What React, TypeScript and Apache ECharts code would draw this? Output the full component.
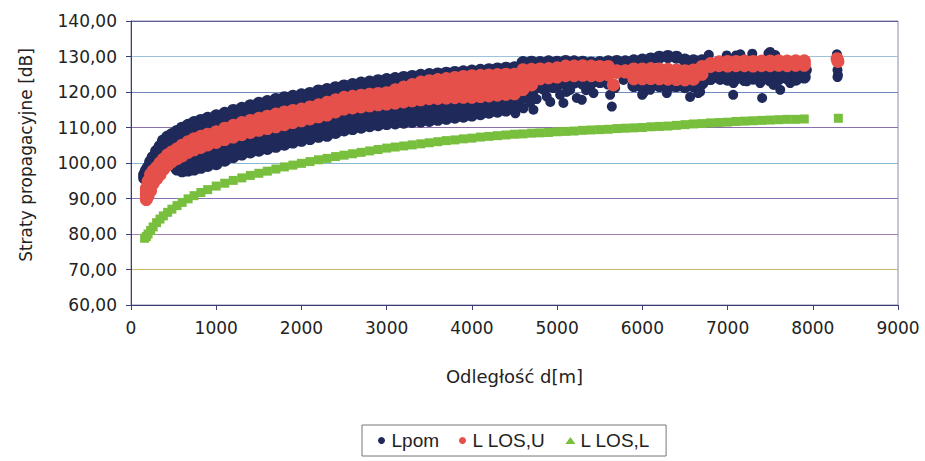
import React, { useEffect, useRef } from "react";
import * as echarts from "echarts";

// distances [m] for the dense part of the cloud
const distA = [
  160, 180, 200, 230, 260, 300, 340, 380, 430, 480, 540, 600, 670, 740, 820, 900,
  1000, 1100, 1200, 1300, 1400, 1500, 1600, 1700, 1800, 1900,
  2000, 2100, 2200, 2300, 2400, 2500, 2600, 2700, 2800, 2900,
  3000, 3100, 3200, 3300, 3400, 3500, 3600, 3700, 3800, 3900,
  4000, 4100, 4200, 4300, 4400, 4500,
];
// distances [m] for the far part
const distB = [
  4600, 4700, 4800, 4900, 5000, 5100, 5200, 5300, 5400, 5500, 5600, 5700, 5800, 5900, 6000, 6100, 6200,
  6300, 6400, 6500, 6600, 6700, 6800, 6900, 7000, 7100, 7200, 7300, 7400, 7500, 7600, 7700, 7800, 7900,
];

// Lpom (measured) – upper rows
const lpomTopA = [
  96.7, 97.8, 98.6, 100.3, 101.6, 103.3, 104.6, 106.2, 107.3, 108.0, 108.9, 109.8, 110.6, 111.4, 112.0, 112.6,
  113.3, 114.0, 114.8, 115.4, 116.1, 116.8, 117.3, 117.9, 118.4, 118.8,
  119.2, 119.6, 120.3, 120.7, 121.2, 121.7, 122.1, 122.5, 122.8, 123.2,
  123.5, 123.8, 124.1, 124.4, 124.7, 124.9, 125.1, 125.3, 125.5, 125.7,
  125.9, 126.1, 126.3, 126.5, 126.7, 126.8,
];
const lpomUpperA = [
  95.8, 96.0, 96.5, 98.0, 99.2, 100.7, 102.2, 103.7, 104.7, 105.5, 106.4, 107.2, 108.2, 108.8, 109.5, 110.1,
  110.7, 111.5, 112.2, 113.0, 113.6, 114.2, 114.8, 115.4, 115.9, 116.3,
  116.6, 117.2, 117.7, 118.2, 118.7, 119.2, 119.6, 120.0, 120.3, 120.7,
  121.0, 121.3, 121.6, 121.9, 122.2, 122.4, 122.6, 122.8, 123.0, 123.2,
  123.4, 123.6, 123.8, 124.0, 124.2, 124.3,
];
// Lpom – lower rows
const lpomLowA1 = [
  null, null, null, null, null, null, null, null, null, null, 98.3, 97.8, 98.0, 98.3, 98.8, 99.3,
  99.8, 100.8, 101.8, 102.5, 103.1, 103.6, 104.1, 104.7, 105.3, 105.9,
  106.4, 106.9, 107.5, 107.8, 108.6, 109.3, 109.7, 110.1, 110.5, 110.8,
  111.1, 111.3, 111.5, 111.7, 111.8, 112.0, 112.3, 112.6, 112.9, 113.2,
  113.5, 113.9, 114.3, 114.6, 114.9, 115.3,
];
const lpomLowA2 = [
  null, null, null, null, null, null, null, null, null, null, 100.8, 100.3, 100.5, 100.8, 101.3, 101.8,
  102.3, 103.3, 104.3, 105.0, 105.6, 106.1, 106.6, 107.2, 107.8, 108.4,
  108.9, 109.4, 110.0, 110.3, 111.1, 111.8, 112.2, 112.6, 113.0, 113.3,
  113.6, 113.8, 114.0, 114.2, 114.3, 114.5, 114.8, 115.1, 115.4, 115.7,
  116.0, 116.4, 116.8, 117.1, 117.4, 117.8,
];
const lpomLowA3 = [
  null, null, null, null, null, null, null, null, null, null, 103.0, 102.5, 102.7, 103.0, 103.5, 104.0,
  104.5, 105.5, 106.5, 107.2, 107.8, 108.3, 108.8, 109.4, 110.0, 110.6,
  111.1, 111.6, 112.2, 112.5, 113.3, 114.0, 114.4, 114.8, 115.2, 115.5,
  115.8, 116.0, 116.2, 116.4, 116.5, 116.7, 117.0, 117.3, 117.6, 117.9,
  118.2, 118.6, 119.0, 119.3, 119.6, 120.0,
];
const lpomTopB = [
  128.3, 128.4, 128.3, 128.5, 128.4, 128.6, 128.5, 128.4, 128.2, 128.3, 128.5, 128.6, 128.5, 128.8, 129.0, 129.3, 129.8,
  130.0, 129.8, 129.0, 128.8, 128.8, null, null, null, null, null, null, null, null, null, null, null, null,
];
const lpomUnderB = [
  118.5, 119.5, 121.5, 121.8, 122.0, 122.5, 122.8, 122.5, 122.7, 123.0, 122.5, null, null, 121.8, 121.5, 122.0, 121.8,
  121.5, 121.8, 121.5, 121.8, 122.5, 125.6, 125.4, 125.8, 125.5, 125.7, 125.4, 125.6, 125.8, 125.5, 125.7, 125.6, 125.8,
];
const lpomUnder2B = [
  null, null, null, null, null, null, null, null, null, null, null, null, null, null, null, null, null,
  null, null, null, null, null, 123.8, 124.2, 123.6, 124.0, 123.5, 123.9, 124.2, 123.4, 123.8, 124.0, 123.6, 124.2,
];
// Lpom – scattered single points [d, L]
const lpomScatter = [
  [4490, 115.9], [4510, 114.0], [4560, 117.5], [4605, 115.4], [4650, 118.2], [4683, 116.9], [4722, 115.0],
  [4760, 118.0], [4840, 120.6], [4878, 118.7], [4920, 117.2], [4957, 121.1], [5035, 119.2], [5074, 116.9],
  [5110, 120.0], [5153, 120.6], [5231, 118.3], [5290, 117.8], [5340, 120.5], [5388, 121.5], [5427, 119.7],
  [5505, 122.5], [5622, 119.2], [5642, 115.9], [5681, 121.1], [5779, 123.4], [5998, 119.2], [6013, 119.7],
  [6092, 120.6], [6170, 122.5], [6287, 119.7], [6365, 121.5], [6483, 122.5], [6560, 118.6], [6580, 121.5],
  [6655, 119.7], [6717, 123.4], [6678, 120.1], [6835, 125.3], [6913, 123.4], [6992, 124.8], [7066, 119.2],
  [7070, 122.5], [7149, 124.4], [7227, 123.0], [7305, 124.8], [7383, 122.5], [7406, 118.3], [7461, 123.9],
  [7540, 122.0], [7618, 120.6], [7657, 124.4], [7735, 122.5], [7813, 123.4], [7892, 125.3], [7931, 126.2],
  [6780, 130.5], [6990, 130.3], [7100, 130.3], [7150, 130.6], [7290, 130.8], [7480, 130.9], [7500, 131.3],
  [7560, 130.4], [8283, 130.6], [8290, 126.2], [8295, 124.8], [8290, 124.2],
];

// L LOS,U rows
const losU1A = [
  null, 92.8, 94.8, 96.8, 97.8, 98.8, 100.0, 101.1, 102.3, 103.1, 104.0, 105.0, 106.0, 106.8, 107.5, 108.1,
  108.8, 109.8, 110.6, 111.4, 112.0, 112.6, 113.2, 113.8, 114.4, 114.8,
  115.2, 115.8, 116.4, 117.1, 117.8, 118.5, 118.8, 119.1, 119.4, 119.6,
  119.8, 120.6, 121.4, 122.1, 122.8, 123.2, 123.5, 123.8, 124.1, 124.4,
  124.6, 124.7, 124.8, 124.9, 125.0, 125.0,
];
const losU2A = [
  null, 91.0, 92.5, 94.5, 95.5, 96.5, 97.7, 98.8, 100.0, 100.8, 101.7, 102.7, 103.7, 104.5, 105.2, 105.8,
  106.5, 107.5, 108.3, 109.1, 109.7, 110.3, 110.9, 111.5, 112.1, 112.5,
  112.9, 113.5, 114.1, 114.8, 115.5, 116.2, 116.5, 116.8, 117.1, 117.3,
  117.5, 118.3, 119.1, 119.8, 120.5, 120.9, 121.2, 121.5, 121.8, 122.1,
  122.3, 122.4, 122.5, 122.6, 122.7, 122.7,
];
const losU3A = [
  null, 92.0, 93.0, 94.5, 96.5, 97.8, 99.0, 100.5, 101.7, 102.7, 103.5, 104.3, 105.3, 106.0, 106.7, 107.4,
  108.1, 108.9, 109.6, 110.3, 110.9, 111.5, 112.0, 112.5, 113.1, 113.7,
  114.2, 114.7, 115.3, 115.8, 116.7, 117.5, 117.8, 118.1, 118.4, 118.7,
  118.9, 119.2, 119.5, 119.8, 120.1, 120.4, 120.5, 120.6, 120.7, 120.8,
  120.8, 121.0, 121.2, 121.4, 121.6, 121.8,
];
const losU4A = [
  null, 89.7, 90.7, 92.2, 94.2, 95.5, 96.7, 98.2, 99.4, 100.4, 101.2, 102.0, 103.0, 103.7, 104.4, 105.1,
  105.8, 106.6, 107.3, 108.0, 108.6, 109.2, 109.7, 110.2, 110.8, 111.4,
  111.9, 112.4, 113.0, 113.5, 114.4, 115.2, 115.5, 115.8, 116.1, 116.4,
  116.6, 116.9, 117.2, 117.5, 117.8, 118.1, 118.2, 118.3, 118.4, 118.5,
  118.5, 118.7, 118.9, 119.1, 119.3, 119.5,
];
const losU1B = [
  126.3, 126.4, 126.5, 126.6, 126.8, 127.3, 127.3, 127.4, 127.3, 127.2, 127.2, 126.0, 126.0, 126.5, 126.5, 126.6, 126.5,
  126.4, 126.2, 126.0, 126.2, 127.2, 128.0, 128.5, 128.6, 128.6, 128.7, 128.6, 128.7, 128.7, 128.8, 128.7, 128.8, 128.8,
];
const losU2B = [
  123.5, 124.2, 124.9, 125.2, 125.5, 126.0, 126.0, 126.0, 126.0, 126.0, 126.0, 125.8, 125.9, 124.8, 124.8, 124.9, 124.8,
  124.6, 124.4, 124.2, 124.4, 126.0, 127.5, 127.9, 128.0, 128.0, 128.1, 128.0, 128.1, 128.1, 128.2, 128.1, 128.2, 128.2,
];
const losU3B = [
  120.7, 122.0, 123.7, 124.0, 124.2, 124.6, 124.6, 124.7, 124.6, 124.6, 124.8, 125.5, 125.6, 123.7, 123.7, 123.8, 123.7,
  123.6, 123.5, 123.4, 123.6, 125.0, 127.2, 127.4, 127.3, 127.4, 127.4, 127.3, 127.4, 127.4, 127.5, 127.4, 127.5, 127.5,
];
const losUScatter = [[5660, 122.0], [8285, 129.4], [8295, 128.6]];

// L LOS,L
const losLA = [
  78.8, 79.3, 80.0, 81.0, 82.0, 83.2, 84.2, 85.1, 86.1, 87.0, 88.0, 88.9, 89.9, 90.8, 91.7, 92.5,
  93.5, 94.3, 95.1, 95.8, 96.5, 97.1, 97.7, 98.3, 98.9, 99.4,
  99.9, 100.4, 100.9, 101.3, 101.8, 102.2, 102.6, 103.0, 103.4, 103.8,
  104.2, 104.5, 104.8, 105.1, 105.4, 105.7, 106.0, 106.3, 106.5, 106.8,
  107.0, 107.3, 107.5, 107.7, 107.9, 108.1,
];
const losLB = [
  108.2, 108.4, 108.5, 108.6, 108.8, 108.9, 109.0, 109.2, 109.3, 109.4, 109.5, 109.7, 109.8, 109.9, 110.0, 110.2, 110.3,
  110.4, 110.6, 110.8, 111.0, 111.1, 111.3, 111.4, 111.5, 111.7, 111.8, 111.9, 112.0, 112.1, 112.2, 112.3, 112.3, 112.4,
];
const losLScatter = [[8300, 112.6]];

const yTicks = [60, 70, 80, 90, 100, 110, 120, 130, 140];
const seriesNames = ["Lpom", "L LOS,U", "L LOS,L"];

function zip(d: number[], v: (number | null)[]): number[][] {
  const out: number[][] = [];
  for (let i = 0; i < d.length; i++) {
    const y = v[i];
    if (y !== null && y !== undefined) out.push([d[i], y]);
  }
  return out;
}

export default function App() {
  const ref = useRef<HTMLDivElement>(null);
  useEffect(() => {
    if (!ref.current) return;
    const chart = echarts.init(ref.current, undefined, { renderer: "svg" });
    const lpom = [
      ...zip(distA, lpomTopA), ...zip(distA, lpomUpperA), ...zip(distA, lpomLowA1),
      ...zip(distA, lpomLowA2), ...zip(distA, lpomLowA3), ...zip(distB, lpomTopB),
      ...zip(distB, lpomUnderB), ...zip(distB, lpomUnder2B),
    ];
    const losU = [
      ...zip(distA, losU1A), ...zip(distA, losU2A), ...zip(distA, losU3A), ...zip(distA, losU4A),
      ...zip(distB, losU1B), ...zip(distB, losU2B), ...zip(distB, losU3B), ...losUScatter,
    ];
    const losL = [...zip(distA, losLA), ...zip(distB, losLB), ...losLScatter];
    const font = "DejaVu Sans";
    const navy = "#1f2a5a";
    chart.setOption({
      animation: false,
      backgroundColor: "#ffffff",
      grid: {
        left: 131, right: 27, top: 21, bottom: 156,
        show: true, borderColor: "#8a8aaa", borderWidth: 1, backgroundColor: "#ffffff",
      },
      legend: {
        left: 362, top: 425, orient: "horizontal",
        padding: [6, 16], itemGap: 20, itemWidth: 10, itemHeight: 7,
        borderColor: "#777", borderWidth: 1,
        textStyle: { fontFamily: "Liberation Sans", fontSize: 19, color: "#222" },
        data: [
          { name: seriesNames[0], icon: "circle" },
          { name: seriesNames[1], icon: "circle" },
          { name: seriesNames[2], icon: "triangle" },
        ],
      },
      xAxis: {
        type: "value", min: 0, max: 9000, interval: 1000,
        name: "Odległość d[m]", nameLocation: "middle", nameGap: 62,
        nameTextStyle: { fontFamily: font, fontSize: 18, color: "#222" },
        axisLine: { show: true, lineStyle: { color: "#3d3d7a", width: 1 } },
        axisTick: { show: true, length: 5, lineStyle: { color: "#3d3d7a" } },
        axisLabel: {
          fontFamily: font, fontSize: 17, color: "#222", margin: 14,
          formatter: (v: number) => String(v),
        },
        splitLine: { show: false },
      },
      yAxis: {
        type: "value", min: yTicks[0], max: yTicks[yTicks.length - 1], interval: 10,
        name: "Straty propagacyjne [dB]", nameLocation: "middle", nameRotate: 90, nameGap: 97,
        nameTextStyle: { fontFamily: font, fontSize: 17, color: "#222", padding: [0, 0, 0, 16] },
        axisLine: { show: true, lineStyle: { color: "#3d3d7a", width: 1 } },
        axisTick: { show: true, length: 5, lineStyle: { color: "#3d3d7a" } },
        axisLabel: {
          fontFamily: font, fontSize: 17, color: "#222", margin: 14,
          formatter: (v: number) => v.toFixed(2).replace(".", ","),
        },
        splitLine: {
          show: true,
          lineStyle: {
            width: 1,
            color: ["#6a6a9a", "#c9b96a", "#a77fb0", "#8a73b0", "#86b6d2", "#8b6fa8", "#7188be", "#9cc3da", "#5f5f98"],
          },
        },
      },
      series: [
        {
          name: seriesNames[0], type: "scatter", data: lpom, symbol: "circle", symbolSize: 13,
          itemStyle: { color: navy, opacity: 1 }, z: 2,
        },
        {
          name: seriesNames[0], type: "scatter", data: lpomScatter, symbol: "circle", symbolSize: 10,
          itemStyle: { color: navy, opacity: 1 }, z: 2,
        },
        {
          name: seriesNames[1], type: "scatter", data: losU, symbol: "circle", symbolSize: 13,
          itemStyle: { color: "#e5504b", opacity: 1 }, z: 3,
        },
        {
          name: seriesNames[2], type: "scatter", data: losL, symbol: "rect", symbolSize: [9, 9],
          itemStyle: { color: "#78bf3e", opacity: 1 }, z: 4,
        },
      ],
    });
    return () => chart.dispose();
  }, []);
  return (
    <div
      ref={ref}
      style={{ position: "fixed", left: 0, top: 0, width: 925, height: 461, background: "#fff" }}
    />
  );
}
